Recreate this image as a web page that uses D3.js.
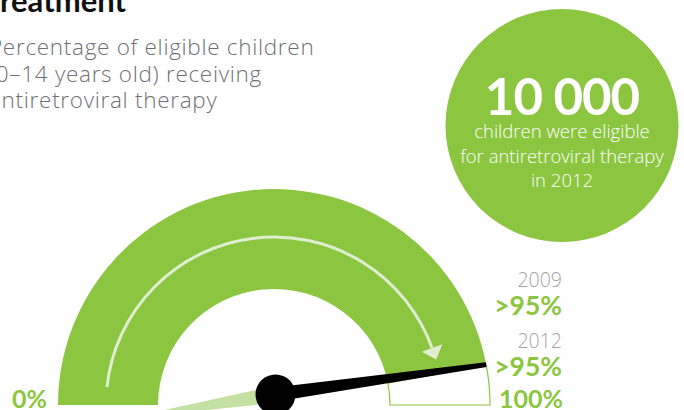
<!DOCTYPE html>
<html>
<head>
<meta charset="utf-8">
<script src="https://cdn.jsdelivr.net/npm/d3@7"></script>
<style>
  html, body { margin: 0; padding: 0; background: #fff; overflow: hidden; }
  svg { display: block; font-family: Lato, "Open Sans", sans-serif; }
  .os { font-family: "Open Sans", Lato, sans-serif; }
</style>
</head>
<body>
<svg id="chart" width="684" height="410"></svg>
<script>
// ---- data ----
const years = ["2009", "2012"];
const coverage = [93.5, 94];            // % of eligible children on ART (needle positions)
const coverageLabels = [">95%", ">95%"];
const scaleTicks = [0, 100];
const tickLabels = ["0%", "100%"];
const eligibleCount = 10000;
const eligibleText = ["children were eligible", "for antiretroviral therapy", "in 2012"];
const titleText = "Treatment";
const subtitleLines = ["Percentage of eligible children", "(0–14 years old) receiving", "antiretroviral therapy"];

// ---- style ----
const GREEN = "#8cc540";
const PALE = "#e0eed0";
const TAIL = "#c4e1a3";
const GREY_TEXT = "#6f7073";
const YEAR_GREY = "#a3a3a3";

const svg = d3.select("#chart");
const cx = 274, cy = 405, rIn = 116, rOut = 216;
const hub = {x: 275.5, y: 394.5, r: 20};

// angle scale (d3.arc convention: 0 = 12 o'clock, clockwise)
const angle = d3.scaleLinear().domain([0, 100]).range([-Math.PI / 2, Math.PI / 2]);
const pt = (v, r) => [cx + r * Math.sin(angle(v)), cy - r * Math.cos(angle(v))];

const g = svg.append("g").attr("transform", `translate(${cx},${cy})`);
const arc = d3.arc().innerRadius(rIn).outerRadius(rOut);

// remaining (unfilled) part
g.append("path")
  .attr("d", arc({startAngle: angle(coverage[1]), endAngle: angle(scaleTicks[1])}))
  .attr("fill", "#fff").attr("stroke", GREEN).attr("stroke-width", 1.2);
// filled part
g.append("path")
  .attr("d", arc({startAngle: angle(scaleTicks[0]), endAngle: angle(coverage[1])}))
  .attr("fill", GREEN);

// pale arrow along the gauge
const arrowStart = 3.4, arrowEnd = 89, arrowTipLen = 12;
g.append("path")
  .attr("d", d3.arc().innerRadius(168).outerRadius(168)({startAngle: angle(arrowStart), endAngle: angle(arrowEnd)}))
  .attr("fill", "none").attr("stroke", PALE).attr("stroke-width", 3);
{
  const a = angle(arrowEnd);
  const base = [168 * Math.sin(a), -168 * Math.cos(a)];
  const tan = [Math.cos(a), Math.sin(a)];      // clockwise tangent
  const perp = [-tan[1], tan[0]];
  const hw = 11;
  const tip = [base[0] + tan[0] * arrowTipLen, base[1] + tan[1] * arrowTipLen];
  g.append("path")
    .attr("d", `M${base[0] + perp[0] * hw},${base[1] + perp[1] * hw}L${base[0] - perp[0] * hw},${base[1] - perp[1] * hw}L${tip[0]},${tip[1]}Z`)
    .attr("fill", PALE);
}

// needle helper: tapered polygon from hub to a point
function needle(from, to, w0, w1) {
  const dx = to[0] - from[0], dy = to[1] - from[1];
  const L = Math.hypot(dx, dy);
  const nx = -dy / L, ny = dx / L;
  return `M${from[0] + nx * w0},${from[1] + ny * w0}L${to[0] + nx * w1},${to[1] + ny * w1}` +
         `L${to[0] - nx * w1},${to[1] - ny * w1}L${from[0] - nx * w0},${from[1] - ny * w0}Z`;
}

// 2009 needle (visible tail, light green)
{
  const tip = pt(coverage[0], rOut);
  const dx = tip[0] - hub.x, dy = tip[1] - hub.y, L = Math.hypot(dx, dy);
  const tailEnd = [hub.x - dx / L * 150, hub.y - dy / L * 150];
  svg.append("path").attr("d", needle([hub.x, hub.y], tailEnd, 8.5, 0)).attr("fill", TAIL);
}
// 2012 needle (black)
svg.append("path").attr("d", needle([hub.x, hub.y], pt(coverage[1], rOut), 7, 2.4)).attr("fill", "#000");
svg.append("circle").attr("cx", hub.x).attr("cy", hub.y).attr("r", hub.r).attr("fill", "#000");

// scale end labels
svg.append("text").attr("x", 12).attr("y", 408).attr("text-anchor", "start")
  .attr("font-size", 25).attr("font-weight", 700).attr("fill", GREEN).text(tickLabels[0]);
svg.append("text").attr("x", 563).attr("y", 408).attr("text-anchor", "end")
  .attr("font-size", 25).attr("font-weight", 700).attr("fill", GREEN).text(tickLabels[1]);

// year labels
const yearY = [287, 348];
years.forEach((yr, i) => {
  svg.append("text").attr("class", "os").attr("x", 562).attr("y", yearY[i]).attr("text-anchor", "end")
    .attr("font-size", 19.5).attr("font-weight", 300).attr("fill", YEAR_GREY).text(yr);
  svg.append("text").attr("x", 562).attr("y", yearY[i] + 28).attr("text-anchor", "end")
    .attr("font-size", 26.5).attr("font-weight", 700).attr("fill", GREEN).text(coverageLabels[i]);
});

// title & subtitle
svg.append("text").attr("x", 126).attr("y", 12).attr("text-anchor", "end")
  .attr("font-size", 31).attr("font-weight", 700).attr("fill", "#111").text(titleText);
subtitleLines.forEach((s, i) => {
  svg.append("text").attr("class", "os").attr("x", -11).attr("y", 55 + i * 26.5)
    .attr("font-size", 22.5).attr("font-weight", 300).attr("letter-spacing", 0.7)
    .attr("fill", GREY_TEXT).text(s);
});

// bubble
const bub = {x: 562, y: 125.5, r: 116.5};
svg.append("circle").attr("cx", bub.x).attr("cy", bub.y).attr("r", bub.r).attr("fill", GREEN);
svg.append("text").attr("x", bub.x).attr("y", 115).attr("text-anchor", "middle")
  .attr("font-size", 51).attr("font-weight", 700).attr("fill", "#fff").attr("letter-spacing", -1)
  .text(d3.format(",")(eligibleCount).replace(/,/g, " "));
eligibleText.forEach((s, i) => {
  svg.append("text").attr("class", "os").attr("x", bub.x).attr("y", 138 + i * 24.5).attr("text-anchor", "middle")
    .attr("font-size", 18.5).attr("font-weight", 300).attr("fill", "#fff").text(s);
});
</script>
</body>
</html>
